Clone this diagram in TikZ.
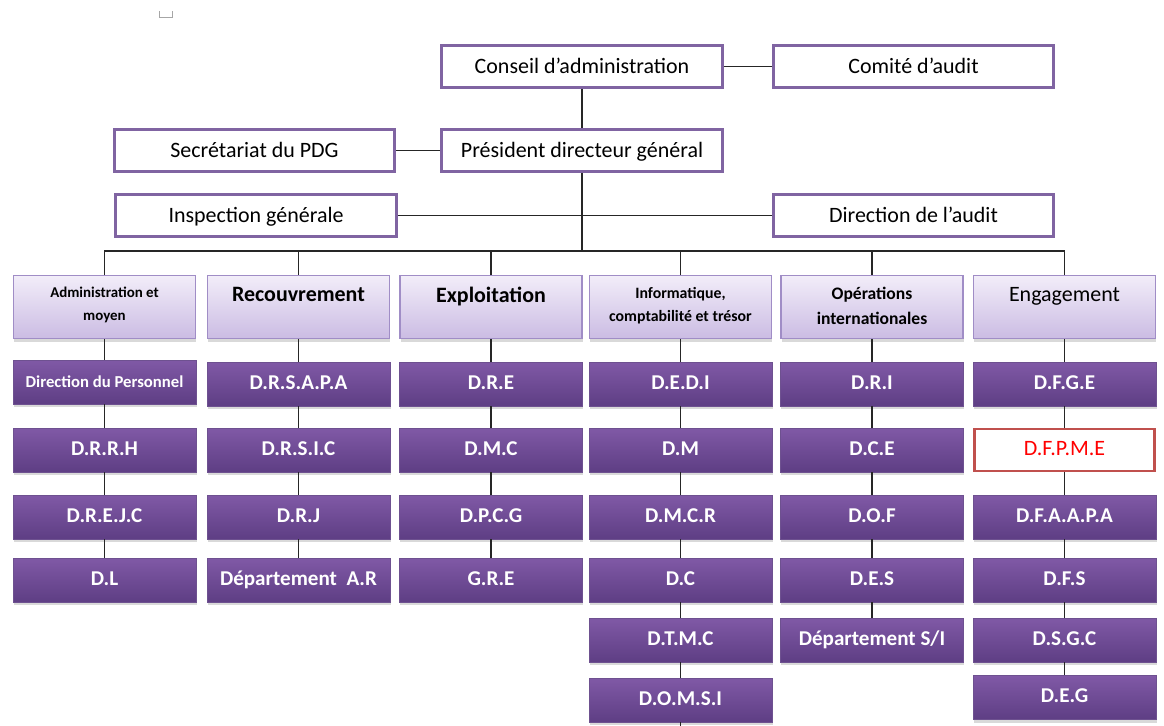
\documentclass[tikz,border=0pt]{standalone}
\usepackage{fontspec}
\setmainfont{Carlito}
\usetikzlibrary{shadows}
\definecolor{orgpurple}{HTML}{8064A2}
\definecolor{hdrtop}{HTML}{F2EDF9}
\definecolor{hdrbot}{HTML}{CBBCE3}
\definecolor{hdredge}{HTML}{A08DC6}
\definecolor{unittop}{HTML}{8059A6}
\definecolor{unitbot}{HTML}{5E3E84}
\definecolor{alertred}{HTML}{C0504D}

\begin{document}
\begin{tikzpicture}[
  x=0.02cm, y=-0.02cm,
  topbox/.style={draw=orgpurple, line width=1.7pt, fill=white,
    minimum width=5.62cm, minimum height=0.84cm, inner sep=0pt,
    text height=9pt, text depth=0.8pt,
    font=\fontsize{12.5}{14}\selectfont},
  hdr/.style={draw=hdredge, line width=0.6pt, top color=hdrtop, bottom color=hdrbot,
    minimum width=3.64cm, minimum height=1.26cm, inner sep=0pt,
    drop shadow={shadow xshift=0.4pt, shadow yshift=-1.8pt, opacity=0.3}},
  hdrlbl/.style={anchor=north, inner sep=0pt, align=center, yshift=-0.24cm},
  unitbox/.style={draw=unitbot!90, line width=0.4pt, top color=unittop, bottom color=unitbot,
    minimum width=3.66cm, minimum height=0.88cm, inner sep=0pt, text=white,
    text height=8.5pt, text depth=2.5pt,
    font=\bfseries\fontsize{12}{14}\selectfont,
    drop shadow={shadow xshift=0.4pt, shadow yshift=-1.8pt, opacity=0.3}},
  alertbox/.style={draw=alertred, line width=1.7pt, fill=white, text=red,
    minimum width=3.6cm, minimum height=0.84cm, inner sep=0pt,
    text height=8.5pt, text depth=2pt,
    font=\fontsize{12.5}{14}\selectfont},
  link/.style={line width=0.75pt, black!85}
]
\useasboundingbox (0,0) rectangle (1164,726);

% page mark
\draw[gray!70, line width=0.4pt] (159,11) -- (159,17) -- (172,17) -- (172,11);

% top of the organisation
\node[topbox] (conseil) at (582,66.5) {Conseil d’administration};
\node[topbox] (comite) at (913.5,66.5) {Comité d’audit};
\node[topbox] (pdg) at (582,150.5) {Président directeur général};
\node[topbox] (secr) at (254.5,150.5) {Secrétariat du PDG};
\node[topbox] (insp) at (256,215.5) {Inspection générale};
\node[topbox] (audit) at (913.5,215.5) {Direction de l’audit};

\draw[link] (conseil) -- (comite);
\draw[link] (conseil) -- (pdg);
\draw[link] (secr) -- (pdg);
\draw[link] (insp) -- (audit);

% directions
\node[hdr] (h1) at (104.5,307) {};
\node[hdr] (h2) at (298.5,307) {};
\node[hdr] (h3) at (491,307) {};
\node[hdr] (h4) at (680.5,307) {};
\node[hdr] (h5) at (872,307) {};
\node[hdr] (h6) at (1064.5,307) {};

\node[hdrlbl, font=\bfseries\fontsize{8.5}{13}\selectfont] (h1t) at (h1.north) {Administration et\\moyen};
\node[hdrlbl, font=\bfseries\fontsize{12.5}{14}\selectfont] (h2t) at (h2.north) {Recouvrement};
\node[hdrlbl, font=\bfseries\fontsize{12.5}{14}\selectfont] (h3t) at (h3.north) {Exploitation};
\node[hdrlbl, font=\bfseries\fontsize{9}{13}\selectfont] (h4t) at (h4.north) {Informatique,\\comptabilité et trésor};
\node[hdrlbl, font=\bfseries\fontsize{10}{14}\selectfont] (h5t) at (h5.north) {Opérations\\internationales};
\node[hdrlbl, font=\fontsize{12.5}{14}\selectfont] (h6t) at (h6.north) {Engagement};

\coordinate (bus) at (582,251);
\draw[link] (pdg) -- (bus);
\draw[link] (bus) -| (h1.north);
\draw[link] (bus) -| (h2.north);
\draw[link] (bus) -| (h3.north);
\draw[link] (bus) -| (h4.north);
\draw[link] (bus) -| (h5.north);
\draw[link] (bus) -| (h6.north);

% administration et moyen
\node[unitbox, font=\bfseries\fontsize{9.5}{11}\selectfont] (a1) at (104.5,382) {Direction du Personnel};
\node[unitbox] (a2) at (104.5,450) {D.R.R.H};
\node[unitbox] (a3) at (104.5,517) {D.R.E.J.C};
\node[unitbox] (a4) at (104.5,580) {D.L};

% recouvrement
\node[unitbox] (b1) at (298.5,384) {D.R.S.A.P.A};
\node[unitbox] (b2) at (298.5,450) {D.R.S.I.C};
\node[unitbox] (b3) at (298.5,517) {D.R.J};
\node[unitbox] (b4) at (298.5,580) {Département~~A.R};

% exploitation
\node[unitbox] (e1) at (491,384) {D.R.E};
\node[unitbox] (e2) at (491,450) {D.M.C};
\node[unitbox] (e3) at (491,517) {D.P.C.G};
\node[unitbox] (e4) at (491,580) {G.R.E};

% informatique
\node[unitbox] (i1) at (680.5,384) {D.E.D.I};
\node[unitbox] (i2) at (680.5,450) {D.M};
\node[unitbox] (i3) at (680.5,517) {D.M.C.R};
\node[unitbox] (i4) at (680.5,580) {D.C};
\node[unitbox] (i5) at (680.5,640) {D.T.M.C};
\node[unitbox] (i6) at (680.5,700) {D.O.M.S.I};
\coordinate (i6end) at (680.5,726);

% operations internationales
\node[unitbox] (o1) at (872,384) {D.R.I};
\node[unitbox] (o2) at (872,450) {D.C.E};
\node[unitbox] (o3) at (872,517) {D.O.F};
\node[unitbox] (o4) at (872,580) {D.E.S};
\node[unitbox] (o5) at (872,640) {Département S/I};

% engagement
\node[unitbox] (g1) at (1064.5,384) {D.F.G.E};
\node[alertbox] (g2) at (1064.5,450) {D.F.P.M.E};
\node[unitbox] (g3) at (1064.5,517) {D.F.A.A.P.A};
\node[unitbox] (g4) at (1064.5,580) {D.F.S};
\node[unitbox] (g5) at (1064.5,640) {D.S.G.C};
\node[unitbox] (g6) at (1064.5,697.5) {D.E.G};

\draw[link] (h1) -- (a1); \draw[link] (a1) -- (a2); \draw[link] (a2) -- (a3); \draw[link] (a3) -- (a4);
\draw[link] (h2) -- (b1); \draw[link] (b1) -- (b2); \draw[link] (b2) -- (b3); \draw[link] (b3) -- (b4);
\draw[link] (h3) -- (e1); \draw[link] (e1) -- (e2); \draw[link] (e2) -- (e3); \draw[link] (e3) -- (e4);
\draw[link] (h4) -- (i1); \draw[link] (i1) -- (i2); \draw[link] (i2) -- (i3); \draw[link] (i3) -- (i4);
\draw[link] (i4) -- (i5); \draw[link] (i5) -- (i6); \draw[link] (i6) -- (i6end);
\draw[link] (h5) -- (o1); \draw[link] (o1) -- (o2); \draw[link] (o2) -- (o3); \draw[link] (o3) -- (o4);
\draw[link] (o4) -- (o5);
\draw[link] (h6) -- (g1); \draw[link] (g1) -- (g2); \draw[link] (g2) -- (g3); \draw[link] (g3) -- (g4);
\draw[link] (g4) -- (g5); \draw[link] (g5) -- (g6);

\end{tikzpicture}
\end{document}
